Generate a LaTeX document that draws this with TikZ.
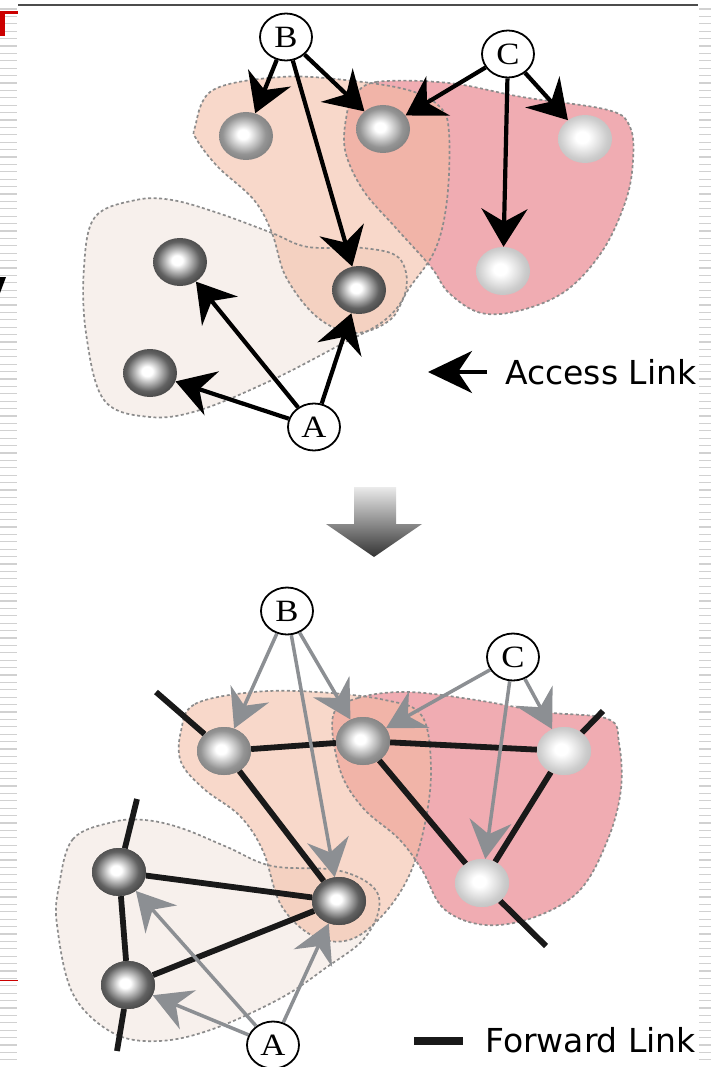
\documentclass[tikz,border=0pt]{standalone}
\usepackage{fontspec}
\newfontfamily\legfont{DejaVu Sans}
\newfontfamily\lblfont{Liberation Serif}
\usetikzlibrary{arrows.meta,shapes.geometric}
\definecolor{blobA}{HTML}{F7F0EC}
\definecolor{blobB}{HTML}{F3BBA2}
\definecolor{blobC}{HTML}{F0ACB2}
\definecolor{garrow}{HTML}{8C8F93}
\pgfdeclareradialshading{sphdark}{\pgfpoint{-3bp}{2bp}}{color(0bp)=(white); color(5bp)=(white); color(20bp)=(black!62); color(32bp)=(black!80); color(50bp)=(black!84)}
\pgfdeclareradialshading{sphmid}{\pgfpoint{-3bp}{2bp}}{color(0bp)=(white); color(5bp)=(white); color(20bp)=(black!42); color(32bp)=(black!55); color(50bp)=(black!58)}
\pgfdeclareradialshading{sphlight}{\pgfpoint{-3bp}{2bp}}{color(0bp)=(white); color(6bp)=(white); color(22bp)=(black!20); color(32bp)=(black!27); color(50bp)=(black!29)}
\newcommand{\lblchar}[1]{\scalebox{1.12}[1]{#1}}
\begin{document}
\begin{tikzpicture}[x=1pt,y=-1pt,
  sph/.style={ellipse, minimum width=54pt, minimum height=48pt, inner sep=0pt},
  dball/.style={sph, shading=sphdark},
  mball/.style={sph, shading=sphmid},
  lball/.style={sph, shading=sphlight},
  lbl/.style={ellipse, draw, line width=1.8pt, fill=white, minimum width=52pt, minimum height=47pt, inner sep=0pt, font=\lblfont\fontsize{31}{31}\selectfont},
  acc/.style={line width=4.2pt, black, -{Stealth[length=38pt, width=46pt, inset=13pt]}},
  gacc/.style={line width=3.5pt, garrow, -{Stealth[length=38pt, width=42pt, inset=13pt]}},
  fwd/.style={line width=5.8pt, black!90},
  blobline/.style={draw=black!45, dash pattern=on 3pt off 2.5pt, line width=1.7pt},
  stripe/.style={draw=black!18, line width=1.2pt},
  leg/.style={font=\legfont\fontsize{33}{35}\selectfont, anchor=west, inner sep=0pt}
]
\useasboundingbox (0,0) rectangle (711,1067);
\fill[white] (0,0) rectangle (711,1067);
% slide edge stripes
\foreach \yy in {9,16.4,...,1067} {
  \draw[stripe] (0,\yy) -- (17,\yy);
  \draw[stripe] (699,\yy) -- (711,\yy);
}
\draw[black!70, line width=2pt] (18,5) -- (698,5);
\fill[red!80!black] (0,11) rectangle (18,14);
\fill[red!80!black] (0,11) rectangle (5,36);
\fill[black] (0,277) -- (6,277) -- (0,293) -- cycle;
\draw[red!80!black, line width=1pt] (0,980) -- (18,980);

% ---------- TOP ----------
\def\blobTA{(136,200) (95,217) (84,267) (86,333) (104,400) (150,417) (200,410) (272,380) (336,347) (385,320) (406,290) (399,258) (363,248) (308,247) (272,233) (218,213) (172,200)}
\def\blobTB{(195,127) (213,90) (281,77) (345,80) (408,90) (440,107) (449,133) (447,200) (435,250) (408,290) (390,320) (354,333) (317,317) (286,277) (272,233) (254,200) (218,167) (197,140)}
\def\blobTC{(354,97) (376,82) (449,83) (522,97) (608,110) (630,127) (633,160) (626,200) (603,250) (567,290) (522,310) (481,313) (449,293) (431,267) (395,227) (363,190) (345,150) (347,113)}
\fill[blobA] plot[smooth cycle, tension=0.6] coordinates {\blobTA};
\fill[blobC] plot[smooth cycle, tension=0.6] coordinates {\blobTC};
\fill[blobB, fill opacity=0.57] plot[smooth cycle, tension=0.6] coordinates {\blobTB};
\draw[blobline] plot[smooth cycle, tension=0.6] coordinates {\blobTA};
\draw[blobline] plot[smooth cycle, tension=0.6] coordinates {\blobTB};
\draw[blobline] plot[smooth cycle, tension=0.6] coordinates {\blobTC};

\node[mball] (tb1) at (246,136) {};
\node[mball] (tbc) at (383,129) {};
\node[lball] (tc2) at (585,139) {};
\node[lball] (tc3) at (503,271) {};
\node[dball] (tab) at (359,290) {};
\node[dball] (ta1) at (180,262) {};
\node[dball] (ta2) at (150,373) {};
\node[lbl] (tB) at (286,37) {\lblchar{B}};
\node[lbl] (tC) at (508,54) {\lblchar{C}};
\node[lbl] (tA) at (314,427) {\lblchar{A}};

\draw[acc] (tB) -- (tb1);
\draw[acc] (tB) -- (tab);
\draw[acc] (tB) -- (tbc);
\draw[acc] (tC) -- (tbc);
\draw[acc] (tC) -- (tc3);
\draw[acc] (tC) -- (tc2);
\draw[acc] (tA) -- (ta2);
\draw[acc] (tA) -- (ta1);
\draw[acc] (tA) -- (tab);

\coordinate (accS) at (487,372);
\coordinate (accE) at (428,372);
\draw[line width=4pt, -{Stealth[length=44pt, width=42pt, inset=14pt]}] (accS) -- (accE);
\node[leg] (accT) at (505,372) {Access Link};

% ---------- big arrow ----------
\shade[top color=black!8, bottom color=black!80]
  (354,487) -- (396,487) -- (396,524) -- (422,524) -- (374,557) -- (326,524) -- (354,524) -- cycle;

% ---------- BOTTOM ----------
\def\blobBA{(113,822) (73,839) (59,886) (57,925) (73,994) (113,1033) (159,1041) (213,1029) (281,998) (327,967) (363,940) (379,909) (372,886) (336,870) (272,866) (227,847) (181,828) (145,820)}
\def\blobBB{(181,731) (195,704) (254,692) (317,692) (385,700) (422,716) (431,770) (424,828) (408,878) (381,917) (349,940) (313,936) (281,905) (263,851) (240,816) (204,789) (181,762)}
\def\blobBC{(333,716) (358,698) (408,692) (476,700) (544,712) (608,719) (619,743) (621,789) (608,839) (580,890) (535,917) (485,925) (444,909) (422,870) (399,839) (363,808) (340,770)}
\fill[blobA] plot[smooth cycle, tension=0.6] coordinates {\blobBA};
\fill[blobC] plot[smooth cycle, tension=0.6] coordinates {\blobBC};
\fill[blobB, fill opacity=0.57] plot[smooth cycle, tension=0.6] coordinates {\blobBB};
\draw[blobline] plot[smooth cycle, tension=0.6] coordinates {\blobBA};
\draw[blobline] plot[smooth cycle, tension=0.6] coordinates {\blobBB};
\draw[blobline] plot[smooth cycle, tension=0.6] coordinates {\blobBC};

\node[mball] (bb1) at (224,751) {};
\node[mball] (bbc) at (363,741) {};
\node[lball] (bc2) at (564,751) {};
\node[lball] (bc3) at (482,883) {};
\node[dball] (bab) at (339,901) {};
\node[dball] (ba1) at (119,872) {};
\node[dball] (ba2) at (128,985) {};
\node[lbl] (bB) at (287,611) {\lblchar{B}};
\node[lbl] (bC) at (513,657) {\lblchar{C}};
\node[lbl] (bA) at (273,1045) {\lblchar{A}};

\coordinate (sb1) at (156,692);
\coordinate (sc2) at (603,711);
\coordinate (sc3) at (546,946);
\coordinate (sa1) at (137,799);
\coordinate (sa2) at (117,1051);

\draw[fwd] (bb1) -- (bbc);
\draw[fwd] (bbc) -- (bc2);
\draw[fwd] (bb1) -- (bab);
\draw[fwd] (bbc) -- (bc3);
\draw[fwd] (bc2) -- (bc3);
\draw[fwd] (ba1) -- (bab);
\draw[fwd] (ba2) -- (bab);
\draw[fwd] (ba1) -- (ba2);
\draw[fwd] (bb1) -- (sb1);
\draw[fwd] (bc2) -- (sc2);
\draw[fwd] (bc3) -- (sc3);
\draw[fwd] (ba1) -- (sa1);
\draw[fwd] (ba2) -- (sa2);

\draw[gacc] (bB) -- (bb1);
\draw[gacc] (bB) -- (bab);
\draw[gacc] (bB) -- (bbc);
\draw[gacc] (bC) -- (bbc);
\draw[gacc] (bC) -- (bc3);
\draw[gacc] (bC) -- (bc2);
\draw[gacc] (bA) -- (ba2);
\draw[gacc] (bA) -- (ba1);
\draw[gacc] (bA) -- (bab);

% redraw balls on top of links
\foreach \n/\s in {bb1/sphmid,bbc/sphmid,bc2/sphlight,bc3/sphlight,bab/sphdark,ba1/sphdark,ba2/sphdark}
  \shade[shading=\s] (\n.center) ellipse [x radius=27pt, y radius=24pt];

\coordinate (fwS) at (414,1041);
\coordinate (fwE) at (463,1041);
\draw[line width=8pt, black!90] (fwS) -- (fwE);
\node[leg] (fwT) at (485,1040) {Forward Link};
\end{tikzpicture}
\end{document}
